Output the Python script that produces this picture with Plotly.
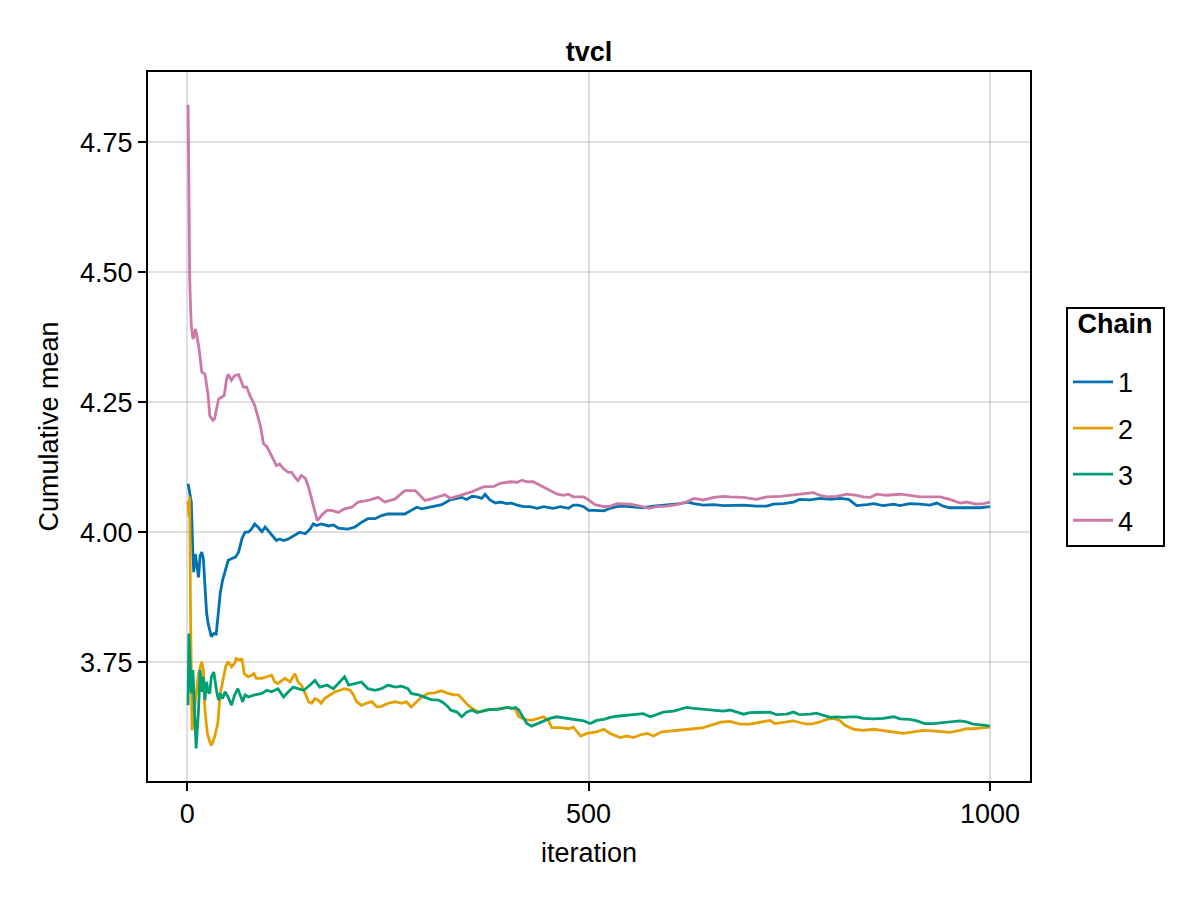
import plotly.graph_objects as go

# ---- data ----
chain1_iter = [1, 5, 7, 8, 10, 12, 14, 16, 18, 20, 22, 24, 26, 28, 30, 33, 36, 39, 41, 44, 48, 51, 55, 60, 64, 68, 72, 76, 80, 84, 88, 93, 97, 101, 105, 111, 115, 120, 126, 134, 140, 147, 153, 157, 161, 167, 176, 182, 188, 200, 209, 217, 225, 234, 242, 250, 259, 271, 279, 286, 292, 300, 308, 317, 327, 336, 342, 348, 355, 361, 367, 371, 377, 384, 390, 398, 404, 411, 419, 427, 436, 444, 456, 465, 475, 481, 487, 494, 500, 508, 519, 527, 535, 543, 556, 568, 581, 593, 606, 614, 624, 631, 643, 656, 668, 680, 693, 709, 722, 730, 743, 755, 763, 776, 788, 801, 813, 824, 828, 834, 847, 855, 867, 880, 888, 900, 913, 925, 934, 942, 950, 963, 975, 988, 1000]
chain1_mean = [4.093, 4.058, 3.958, 3.923, 3.958, 3.936, 3.913, 3.955, 3.962, 3.949, 3.897, 3.846, 3.824, 3.808, 3.799, 3.805, 3.804, 3.850, 3.882, 3.908, 3.933, 3.946, 3.949, 3.952, 3.962, 3.987, 4.000, 4.000, 4.006, 4.016, 4.010, 4.001, 4.010, 4.003, 3.994, 3.984, 3.987, 3.984, 3.987, 3.994, 4.000, 3.997, 4.006, 4.016, 4.013, 4.016, 4.012, 4.014, 4.008, 4.006, 4.010, 4.019, 4.026, 4.026, 4.032, 4.035, 4.035, 4.035, 4.042, 4.048, 4.045, 4.048, 4.051, 4.053, 4.062, 4.065, 4.067, 4.063, 4.069, 4.068, 4.065, 4.073, 4.062, 4.056, 4.058, 4.055, 4.056, 4.052, 4.049, 4.049, 4.046, 4.049, 4.046, 4.049, 4.046, 4.052, 4.052, 4.049, 4.042, 4.042, 4.041, 4.046, 4.049, 4.050, 4.049, 4.047, 4.050, 4.052, 4.053, 4.055, 4.058, 4.055, 4.052, 4.053, 4.051, 4.051, 4.052, 4.050, 4.050, 4.054, 4.055, 4.058, 4.063, 4.062, 4.065, 4.063, 4.065, 4.063, 4.058, 4.051, 4.053, 4.055, 4.051, 4.054, 4.051, 4.055, 4.054, 4.052, 4.056, 4.050, 4.047, 4.047, 4.047, 4.047, 4.049]

chain2_iter = [1, 2, 3, 4, 6, 10, 14, 18, 20, 22, 25, 28, 30, 34, 38, 41, 44, 48, 51, 55, 59, 61, 66, 68, 71, 76, 80, 83, 86, 93, 99, 105, 109, 113, 118, 122, 128, 134, 138, 142, 147, 151, 155, 159, 163, 167, 171, 178, 184, 190, 196, 203, 207, 211, 217, 223, 230, 236, 242, 250, 259, 267, 273, 279, 286, 292, 300, 308, 317, 323, 332, 338, 344, 350, 357, 363, 371, 382, 392, 402, 409, 413, 421, 429, 436, 444, 450, 454, 465, 475, 481, 490, 498, 510, 519, 527, 539, 548, 556, 564, 573, 581, 591, 606, 618, 631, 643, 656, 666, 676, 689, 701, 714, 726, 732, 743, 755, 763, 772, 780, 788, 797, 805, 813, 819, 830, 842, 855, 867, 880, 892, 905, 917, 929, 942, 950, 963, 971, 979, 992, 1000]
chain2_mean = [4.060, 4.030, 4.068, 3.850, 3.619, 3.671, 3.728, 3.751, 3.735, 3.658, 3.613, 3.597, 3.590, 3.606, 3.632, 3.690, 3.715, 3.742, 3.751, 3.741, 3.748, 3.757, 3.754, 3.757, 3.728, 3.722, 3.725, 3.728, 3.719, 3.719, 3.722, 3.725, 3.712, 3.709, 3.715, 3.719, 3.712, 3.728, 3.712, 3.706, 3.690, 3.674, 3.671, 3.680, 3.677, 3.671, 3.680, 3.687, 3.693, 3.696, 3.699, 3.696, 3.687, 3.674, 3.667, 3.671, 3.674, 3.664, 3.665, 3.671, 3.674, 3.671, 3.674, 3.664, 3.674, 3.683, 3.690, 3.691, 3.695, 3.691, 3.687, 3.687, 3.677, 3.667, 3.659, 3.654, 3.658, 3.659, 3.661, 3.663, 3.659, 3.645, 3.640, 3.638, 3.641, 3.645, 3.638, 3.624, 3.624, 3.622, 3.625, 3.608, 3.613, 3.616, 3.621, 3.613, 3.605, 3.608, 3.605, 3.610, 3.613, 3.608, 3.616, 3.618, 3.619, 3.622, 3.624, 3.631, 3.635, 3.636, 3.631, 3.631, 3.634, 3.638, 3.632, 3.635, 3.637, 3.634, 3.631, 3.632, 3.635, 3.640, 3.642, 3.638, 3.629, 3.621, 3.619, 3.621, 3.618, 3.616, 3.613, 3.616, 3.619, 3.618, 3.616, 3.615, 3.619, 3.622, 3.622, 3.624, 3.625]

chain3_iter = [1, 2, 5, 7, 9, 11, 14, 16, 18, 20, 22, 24, 26, 28, 30, 33, 37, 39, 41, 44, 47, 51, 55, 59, 63, 66, 69, 72, 76, 84, 93, 99, 105, 113, 120, 126, 132, 138, 145, 153, 159, 165, 174, 182, 190, 196, 201, 209, 217, 225, 234, 242, 250, 259, 267, 275, 279, 288, 296, 304, 313, 319, 325, 328, 336, 342, 348, 355, 361, 369, 377, 386, 392, 398, 404, 409, 413, 417, 423, 429, 440, 452, 460, 469, 477, 485, 494, 502, 510, 519, 527, 535, 548, 560, 568, 577, 585, 593, 606, 614, 622, 631, 643, 656, 668, 676, 685, 693, 701, 714, 726, 734, 747, 755, 763, 776, 784, 792, 801, 809, 817, 826, 834, 842, 855, 867, 880, 888, 900, 909, 919, 929, 942, 950, 963, 971, 979, 992, 1000]
chain3_mean = [3.667, 3.805, 3.690, 3.735, 3.658, 3.584, 3.658, 3.735, 3.693, 3.722, 3.677, 3.712, 3.693, 3.690, 3.722, 3.731, 3.690, 3.677, 3.690, 3.680, 3.693, 3.683, 3.667, 3.687, 3.699, 3.687, 3.674, 3.687, 3.683, 3.687, 3.690, 3.696, 3.693, 3.699, 3.683, 3.693, 3.702, 3.699, 3.696, 3.706, 3.715, 3.702, 3.706, 3.699, 3.712, 3.722, 3.706, 3.709, 3.712, 3.699, 3.696, 3.699, 3.706, 3.702, 3.704, 3.699, 3.690, 3.687, 3.682, 3.678, 3.677, 3.672, 3.664, 3.658, 3.654, 3.645, 3.654, 3.658, 3.653, 3.656, 3.659, 3.659, 3.661, 3.663, 3.661, 3.663, 3.658, 3.648, 3.632, 3.627, 3.634, 3.642, 3.645, 3.643, 3.642, 3.640, 3.637, 3.632, 3.638, 3.640, 3.644, 3.646, 3.648, 3.651, 3.651, 3.645, 3.649, 3.654, 3.656, 3.659, 3.663, 3.661, 3.659, 3.658, 3.656, 3.658, 3.654, 3.650, 3.653, 3.654, 3.654, 3.649, 3.650, 3.654, 3.649, 3.650, 3.652, 3.648, 3.644, 3.645, 3.644, 3.645, 3.645, 3.642, 3.641, 3.642, 3.645, 3.641, 3.640, 3.637, 3.632, 3.632, 3.634, 3.636, 3.637, 3.635, 3.631, 3.629, 3.627]

chain4_iter = [1, 2, 3, 4, 5, 7, 9, 10, 12, 15, 17, 18, 22, 26, 28, 32, 34, 39, 43, 46, 49, 51, 55, 59, 64, 70, 74, 78, 84, 91, 95, 99, 105, 111, 115, 120, 126, 130, 134, 138, 142, 147, 151, 155, 159, 162, 167, 174, 180, 188, 196, 205, 213, 225, 238, 246, 259, 271, 284, 296, 304, 317, 321, 328, 334, 344, 355, 369, 382, 390, 402, 411, 417, 423, 431, 440, 452, 461, 469, 475, 481, 494, 500, 508, 519, 527, 535, 543, 552, 564, 575, 585, 597, 610, 622, 631, 643, 656, 668, 676, 693, 709, 722, 739, 751, 763, 780, 788, 797, 809, 822, 834, 842, 851, 859, 871, 888, 900, 913, 925, 938, 950, 963, 971, 983, 992, 1000]
chain4_mean = [4.822, 4.538, 4.487, 4.436, 4.397, 4.372, 4.378, 4.391, 4.378, 4.349, 4.314, 4.308, 4.304, 4.263, 4.224, 4.215, 4.218, 4.256, 4.260, 4.263, 4.295, 4.304, 4.292, 4.301, 4.303, 4.279, 4.279, 4.263, 4.244, 4.205, 4.170, 4.165, 4.147, 4.128, 4.131, 4.122, 4.115, 4.115, 4.106, 4.099, 4.109, 4.104, 4.087, 4.064, 4.038, 4.022, 4.032, 4.042, 4.042, 4.038, 4.045, 4.048, 4.058, 4.061, 4.067, 4.058, 4.064, 4.080, 4.080, 4.061, 4.064, 4.071, 4.072, 4.065, 4.068, 4.074, 4.078, 4.087, 4.088, 4.094, 4.097, 4.096, 4.100, 4.097, 4.097, 4.090, 4.081, 4.073, 4.071, 4.073, 4.068, 4.068, 4.062, 4.053, 4.049, 4.050, 4.055, 4.055, 4.054, 4.050, 4.046, 4.049, 4.050, 4.053, 4.058, 4.065, 4.062, 4.067, 4.069, 4.068, 4.067, 4.063, 4.068, 4.069, 4.071, 4.074, 4.076, 4.071, 4.068, 4.069, 4.073, 4.071, 4.068, 4.067, 4.073, 4.071, 4.073, 4.071, 4.068, 4.068, 4.068, 4.063, 4.056, 4.058, 4.054, 4.055, 4.058]

chain_names = ["1", "2", "3", "4"]
chain_colors = ["#0072B2", "#E69F00", "#009E73", "#CC79A7"]
x_ticks = [0, 500, 1000]
y_ticks = [3.75, 4.00, 4.25, 4.50, 4.75]

FONT = "Liberation Sans, Arial, Helvetica, sans-serif"
FS = 27

series = [
    (chain1_iter, chain1_mean),
    (chain2_iter, chain2_mean),
    (chain3_iter, chain3_mean),
    (chain4_iter, chain4_mean),
]

fig = go.Figure()
for (xs, ys), name, col in zip(series, chain_names, chain_colors):
    fig.add_trace(go.Scatter(x=xs, y=ys, mode="lines", name=name,
                             legendgroup="g" + name,
                             line=dict(color=col, width=2.8)))

axis_common = dict(
    showline=True, linecolor="black", linewidth=2, mirror=True,
    showgrid=True, gridcolor="rgba(0,0,0,0.12)", gridwidth=2,
    zeroline=False, ticks="outside", ticklen=8, tickwidth=2, tickcolor="black",
    tickfont=dict(family=FONT, size=FS, color="black"),
)

fig.update_layout(
    width=1200, height=900,
    paper_bgcolor="white", plot_bgcolor="white",
    margin=dict(l=148, r=170, t=72, b=119),
    font=dict(family=FONT, size=FS, color="black"),
    title=dict(text="<b>tvcl</b>", x=0.5, xref="paper", xanchor="center",
               y=1 - 52 / 900, yref="container", yanchor="middle",
               font=dict(family=FONT, size=FS, color="black")),
    xaxis=dict(range=[-48.95, 1049.95], tickvals=x_ticks,
               ticktext=[str(v) for v in x_ticks],
               title=dict(text="iteration", standoff=15,
                          font=dict(family=FONT, size=FS)),
               **axis_common),
    yaxis=dict(range=[3.5215, 4.885], tickvals=y_ticks,
               ticktext=[f"{v:.2f}" for v in y_ticks],
               title=dict(text="Cumulative mean", standoff=14,
                          font=dict(family=FONT, size=FS)),
               **axis_common),
    legend=dict(
        title=dict(text="<span style='font-size:27px'>&nbsp;<b>Chain</b>&nbsp;</span><br> ",
                   font=dict(family=FONT, size=19), side="top"),
        font=dict(family=FONT, size=FS, color="black"),
        x=1.0408, xanchor="left", y=0.5, yanchor="middle",
        bordercolor="black", borderwidth=2, bgcolor="white",
        itemwidth=40, tracegroupgap=8,
    ),
    showlegend=True,
)

fig.write_html("out.html")
